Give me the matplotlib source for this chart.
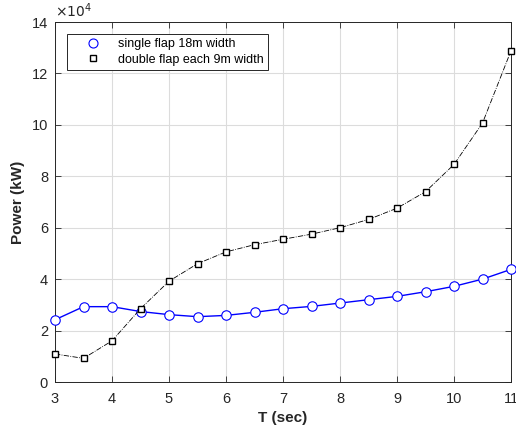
import matplotlib
matplotlib.use("Agg")
import matplotlib.pyplot as plt
from matplotlib.lines import Line2D
import numpy as np

plt.rcParams['font.family'] = ['Liberation Sans', 'DejaVu Sans']

T = [3, 3.5, 4, 4.5, 5, 5.5, 6, 6.5, 7, 7.5, 8, 8.5, 9, 9.5, 10, 10.5, 11]
single_flap = [2.42, 2.93, 2.93, 2.74, 2.62, 2.54, 2.59, 2.71, 2.85, 2.94, 3.07,
               3.20, 3.33, 3.51, 3.72, 4.00, 4.38]
double_flap = [1.09, 0.92, 1.60, 2.85, 3.92, 4.60, 5.06, 5.34, 5.55, 5.75, 6.00,
               6.32, 6.76, 7.40, 8.46, 10.07, 12.88]
scale = 1e4
xticks = [3, 4, 5, 6, 7, 8, 9, 10, 11]
yticks = [0, 2, 4, 6, 8, 10, 12, 14]
labels = ['single flap 18m width', 'double flap each 9m width']

fig = plt.figure(figsize=(5.16, 4.32), dpi=100)
ax = fig.add_axes([55/516, 1 - 382/432, (511-55)/516, (382-22)/432])

ax.plot(T, np.array(single_flap) * scale, color='#0000ff', lw=1.0, marker='o',
        ms=6.8, mfc='white', mec='#0000ff', mew=0.8, clip_on=False, zorder=3)
ax.plot(T, np.array(double_flap) * scale, color='black', lw=0.6, ls='-.',
        marker='s', ms=5.0, mfc='white', mec='black', mew=1.0,
        clip_on=False, zorder=3)

ax.set_xlim(3, 11)
ax.set_ylim(0, 14e4)
ax.set_xticks(xticks)
ax.set_yticks([v * scale for v in yticks])
ax.set_yticklabels([str(v) for v in yticks])
ax.set_xticklabels([str(v) for v in xticks])
ax.grid(True, color='#dcdcdc', lw=0.8)
ax.set_axisbelow(True)
ax.tick_params(direction='in', top=True, right=True, labelsize=10.5,
               colors='#262626', length=4, width=0.6)
ax.tick_params(axis='x', pad=7)
ax.tick_params(axis='y', pad=5)
for s in ax.spines.values():
    s.set_color('#262626')
    s.set_linewidth(0.7)

ax.set_xlabel('T (sec)', fontsize=11, fontweight='bold', color='#262626',
              labelpad=4)
ax.set_ylabel('Power (kW)', fontsize=11, fontweight='bold', color='#262626',
              labelpad=5)
ax.text(0.0, 1.005, r'$\times 10^4$', transform=ax.transAxes, fontsize=10,
        color='#262626', va='bottom', ha='left')

handles = [
    Line2D([], [], ls='none', marker='o', ms=6.5, mfc='white', mec='#0000ff', mew=0.8),
    Line2D([], [], ls='none', marker='s', ms=5.0, mfc='white', mec='black', mew=1.0),
]
leg = ax.legend(handles, labels, loc='upper left',
                bbox_to_anchor=(12/456, 1 - 12/360), fontsize=9,
                frameon=True, fancybox=False, edgecolor='#262626',
                borderpad=0.35, handlelength=3.4, handletextpad=0.3,
                labelspacing=0.25, framealpha=1, borderaxespad=0)
leg.get_frame().set_linewidth(0.7)

fig.savefig('out.png', dpi=100)
